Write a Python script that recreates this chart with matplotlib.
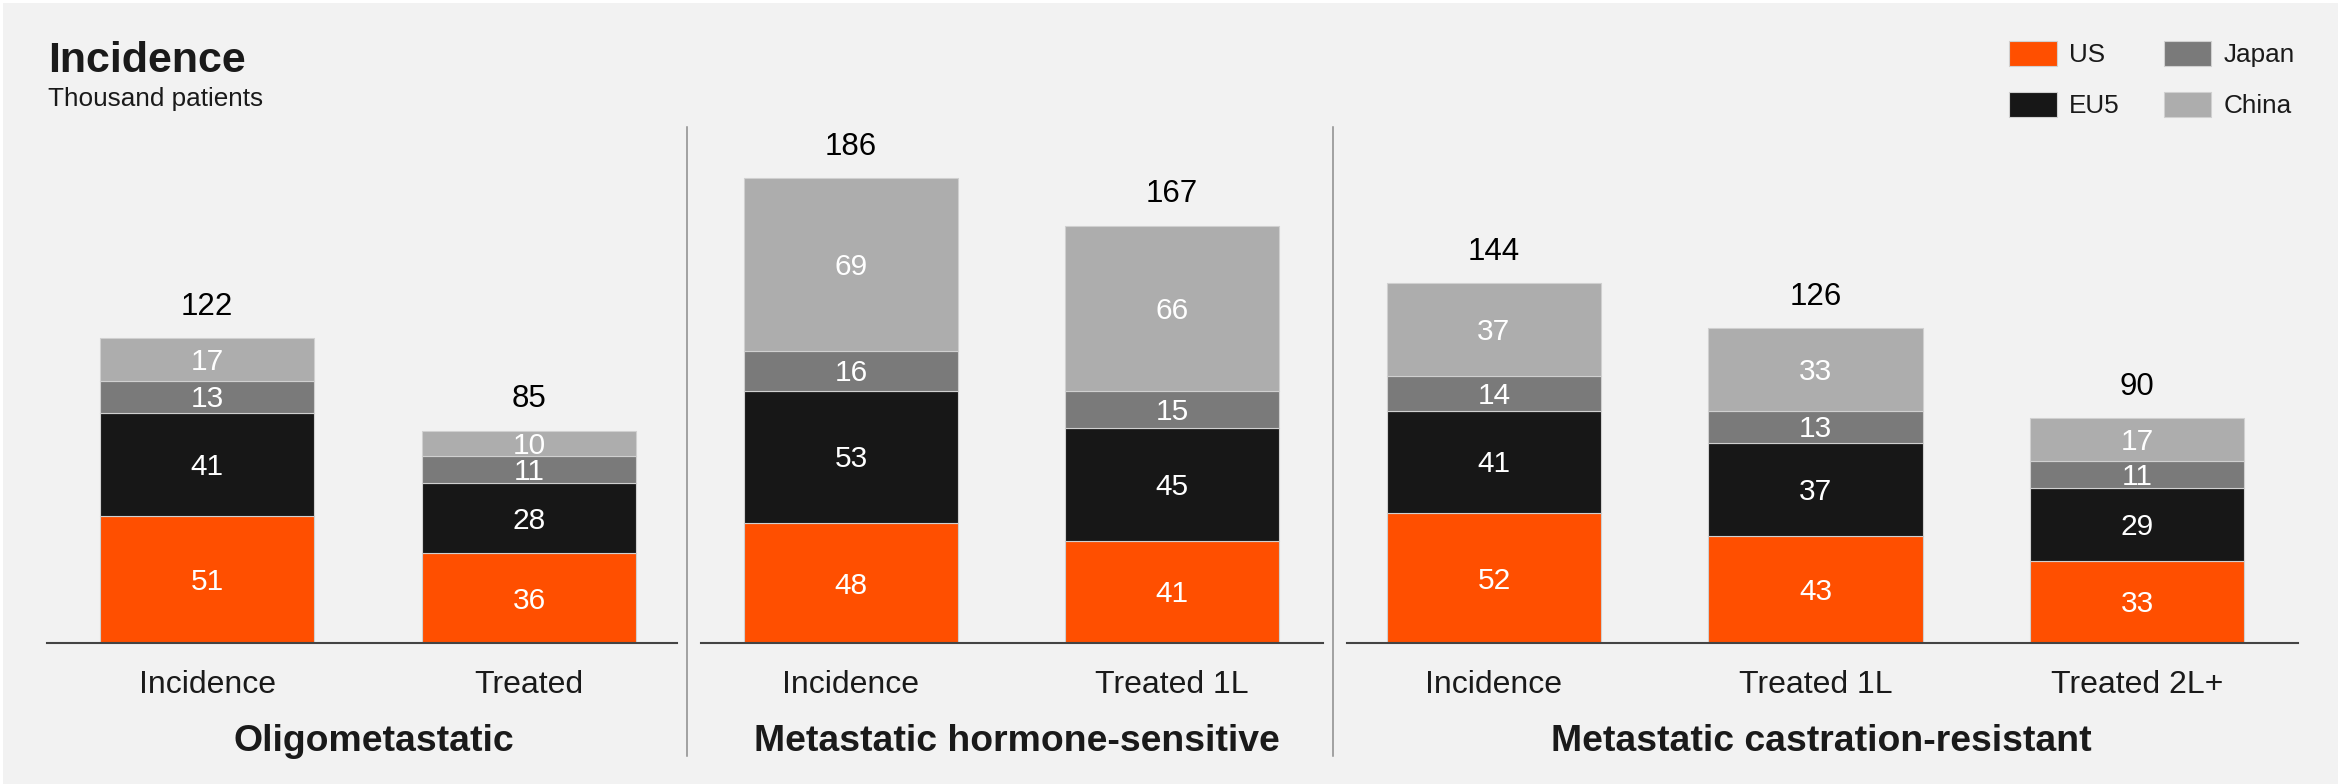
import matplotlib
matplotlib.use("Agg")
import matplotlib.pyplot as plt
from matplotlib.patches import Rectangle
from matplotlib.lines import Line2D
import numpy as np

plt.rcParams['font.family'] = ['Liberation Sans', 'DejaVu Sans']

# data (thousand patients)
groups = ["Oligometastatic", "Metastatic hormone-sensitive", "Metastatic castration-resistant"]
cats = [["Incidence", "Treated"],
        ["Incidence", "Treated 1L"],
        ["Incidence", "Treated 1L", "Treated 2L+"]]
us = [[51, 36], [48, 41], [52, 43, 33]]
eu5 = [[41, 28], [53, 45], [41, 37, 29]]
japan = [[13, 11], [16, 15], [14, 13, 11]]
china = [[17, 10], [69, 66], [37, 33, 17]]

series = [("US", us, "#ff4f00"), ("EU5", eu5, "#171717"),
          ("Japan", japan, "#7a7a7a"), ("China", china, "#adadad")]

W, H = 2348, 784
fig = plt.figure(figsize=(W / 100, H / 100), dpi=100)
fig.patch.set_facecolor("white")
fig.add_artist(Rectangle((3 / W, 0), (2338 - 3) / W, (781) / H,
                         transform=fig.transFigure, facecolor="#f2f2f2",
                         edgecolor="none", zorder=-10))

# panel placement in pixels: (left, right, xlim)
panels = [(47, 677, (-0.498, 1.46)),
          (701, 1323, (-0.467, 1.47)),
          (1347, 2298, (-0.457, 2.5))]
base_px = 643
top_px = 143

handles = None
for g, (l, r, xl) in enumerate(panels):
    ax = fig.add_axes([l / W, (H - base_px) / H, (r - l) / W, (base_px - top_px) / H])
    ax.set_facecolor("none")
    x = np.arange(len(cats[g]))
    bottom = np.zeros(len(x))
    hs = []
    for name, vals, col in series:
        v = np.array(vals[g], dtype=float)
        b = ax.bar(x, v, 0.666, bottom=bottom, color=col, edgecolor="#d0d0d0",
                   linewidth=0.8, label=name)
        hs.append(b)
        for xi, vi, bi in zip(x, v, bottom):
            ax.annotate(f"{vi:.0f}", (xi, bi + vi / 2), xytext=(0, -7.7),
                        textcoords="offset points", ha="center", va="baseline",
                        color="white", fontsize=21.5)
        bottom = bottom + v
    if handles is None:
        handles = hs
    for xi, tot in zip(x, bottom):
        ax.annotate(f"{tot:.0f}", (xi, tot), xytext=(0, 16.6), textcoords="offset points",
                    ha="center", va="baseline", fontsize=22.5, color="black")
    ax.set_xlim(*xl)
    ax.set_ylim(0, 200)
    ax.set_xticks(x)
    ax.set_xticklabels(cats[g], fontsize=23, color="#1a1a1a")
    ax.tick_params(axis="x", length=0, pad=19.5)
    ax.set_yticks([])
    for s in ["top", "left", "right"]:
        ax.spines[s].set_visible(False)
    ax.spines["bottom"].set_color("#444444")
    ax.spines["bottom"].set_linewidth(1.5)
    ax.annotate(groups[g], (x.mean(), 0), xytext=(4, -77.5), textcoords="offset points",
                ha="center", va="baseline", fontsize=26.9, fontweight="bold",
                color="#1a1a1a", annotation_clip=False)

# dividers between panels
for xp in [687, 1333]:
    fig.add_artist(Line2D([xp / W, xp / W], [(H - 127) / H, (H - 756) / H],
                          transform=fig.transFigure, color="#8c8c8c", linewidth=1.1))

fig.text(48 / W, (H - 71.5) / H, "Incidence", fontsize=31, fontweight="bold",
         color="#1a1a1a", va="baseline", ha="left")
fig.text(48 / W, (H - 106) / H, "Thousand patients", fontsize=18.8, color="#1a1a1a",
         va="baseline", ha="left")

fig.legend(handles=handles, labels=[s[0] for s in series], ncol=2, frameon=False,
           loc="upper left", bbox_to_anchor=(2009 / W, (H - 41) / H),
           fontsize=18.8, handlelength=1.83, handleheight=1.09, handletextpad=0.46,
           columnspacing=1.69, labelspacing=0.93, borderpad=0, borderaxespad=0,
           labelcolor="#1a1a1a")

fig.savefig("out.png", dpi=100, facecolor=fig.get_facecolor())
